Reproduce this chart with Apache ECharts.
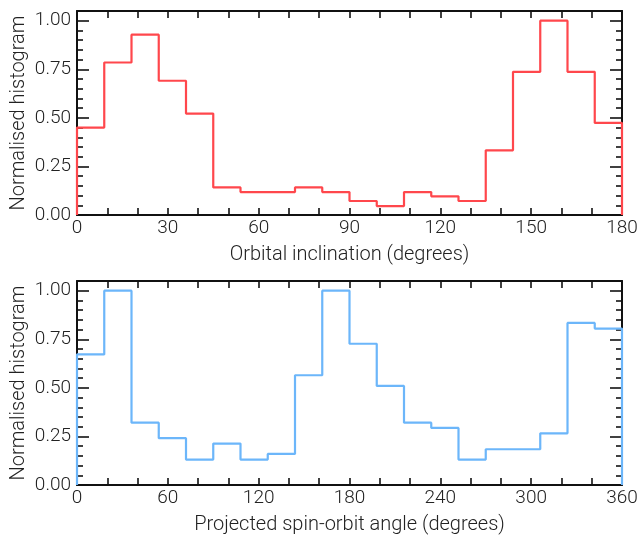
<!DOCTYPE html>
<html>
<head>
<meta charset="utf-8">
<script src="https://cdn.jsdelivr.net/npm/echarts@6/dist/echarts.min.js"></script>
<style>
  html, body { margin: 0; padding: 0; background: #fff; }
  #main { width: 639px; height: 536px; }
</style>
</head>
<body>
<div id="main"></div>
<script>
// bin left edges + heights
const incEdges = [0, 9, 18, 27, 36, 45, 54, 63, 72, 81, 90, 99, 108, 117, 126, 135, 144, 153, 162, 171, 180]
const incValues = [0.45, 0.785, 0.928, 0.691, 0.522, 0.142, 0.118, 0.118, 0.142, 0.118,
  0.072, 0.046, 0.118, 0.096, 0.072, 0.333, 0.737, 1.0, 0.737, 0.474]

const psiEdges = [0, 18, 36, 54, 72, 90, 108, 126, 144, 162, 180, 198, 216, 234, 252, 270, 288, 306, 324, 342, 360]
const psiValues = [0.672, 1.0, 0.321, 0.241, 0.131, 0.213, 0.131, 0.160, 0.565, 1.0,
  0.727, 0.510, 0.321, 0.294, 0.131, 0.184, 0.184, 0.266, 0.834, 0.805]

const yTicks = [0, 0.25, 0.5, 0.75, 1.0]

/** step histogram outline, starting and ending at zero like matplotlib's histtype='step' */
function stepPoints(edges, values) {
  const pts = [[edges[0], 0]]
  values.forEach((v, i) => {
    pts.push([edges[i], v])
  })
  pts.push([edges[edges.length - 1], values[values.length - 1]])
  pts.push([edges[edges.length - 1], 0])
  return pts
}

const font = 'Roboto'
const textColor = '#222'
const lineStyle = { color: '#111', width: 2 }
const tickStyle = { color: '#111', width: 1.6 }

function xAxes(gridIndex, max, interval, name) {
  const base = {
    type: 'value',
    gridIndex: gridIndex,
    min: 0,
    max: max,
    interval: interval,
    axisLine: { show: true, onZero: false, lineStyle: lineStyle },
    axisTick: { show: true, inside: true, length: 7, lineStyle: tickStyle },
    minorTick: { show: true, splitNumber: 3, length: 7, lineStyle: tickStyle },
    splitLine: { show: false },
    minorSplitLine: { show: false }
  }
  return [
    Object.assign({}, base, {
      position: 'bottom',
      name: name,
      nameLocation: 'middle',
      nameGap: 30,
      nameMoveOverlap: false,
      nameTextStyle: { fontFamily: font, fontWeight: 300, fontSize: 20, color: textColor },
      axisLabel: { fontFamily: font, fontWeight: 300, fontSize: 19, color: textColor, margin: 4 }
    }),
    Object.assign({}, base, {
      position: 'top',
      axisLabel: { show: false }
    })
  ]
}

function yAxes(gridIndex) {
  const base = {
    type: 'value',
    gridIndex: gridIndex,
    min: 0,
    max: 1.05,
    interval: 0.25,
    axisLine: { show: true, onZero: false, lineStyle: lineStyle },
    axisTick: { show: true, inside: true, length: 12, lineStyle: tickStyle },
    minorTick: { show: true, splitNumber: 5, length: 6, lineStyle: tickStyle },
    splitLine: { show: false },
    minorSplitLine: { show: false }
  }
  return [
    Object.assign({}, base, {
      position: 'left',
      name: 'Normalised histogram',
      nameLocation: 'middle',
      nameGap: 48,
      nameMoveOverlap: false,
      nameTextStyle: { fontFamily: font, fontWeight: 300, fontSize: 20, color: textColor },
      axisLabel: {
        fontFamily: font, fontWeight: 300, fontSize: 19, color: textColor, margin: 6,
        showMaxLabel: false,
        formatter: (v) => (yTicks.indexOf(v) >= 0 ? v.toFixed(2) : '')
      }
    }),
    Object.assign({}, base, {
      position: 'right',
      axisLabel: { show: false }
    })
  ]
}

const option = {
  animation: false,
  grid: [
    { left: 77, right: 17, top: 11, height: 204, outerBoundsMode: 'none' },
    { left: 77, right: 17, top: 281, height: 204, outerBoundsMode: 'none' }
  ],
  xAxis: [].concat(
    xAxes(0, 180, 30, 'Orbital inclination (degrees)'),
    xAxes(1, 360, 60, 'Projected spin-orbit angle (degrees)')
  ),
  yAxis: [].concat(yAxes(0), yAxes(1)),
  series: [
    {
      type: 'line',
      step: 'end',
      xAxisIndex: 0,
      yAxisIndex: 0,
      symbol: 'none',
      lineStyle: { color: '#ff474c', width: 2.2 },
      data: stepPoints(incEdges, incValues)
    },
    {
      type: 'line',
      step: 'end',
      xAxisIndex: 2,
      yAxisIndex: 2,
      symbol: 'none',
      lineStyle: { color: '#6cb6fa', width: 2.2 },
      data: stepPoints(psiEdges, psiValues)
    }
  ]
}

const myChart = echarts.init(document.getElementById('main'))
myChart.setOption(option)
</script>
</body>
</html>
